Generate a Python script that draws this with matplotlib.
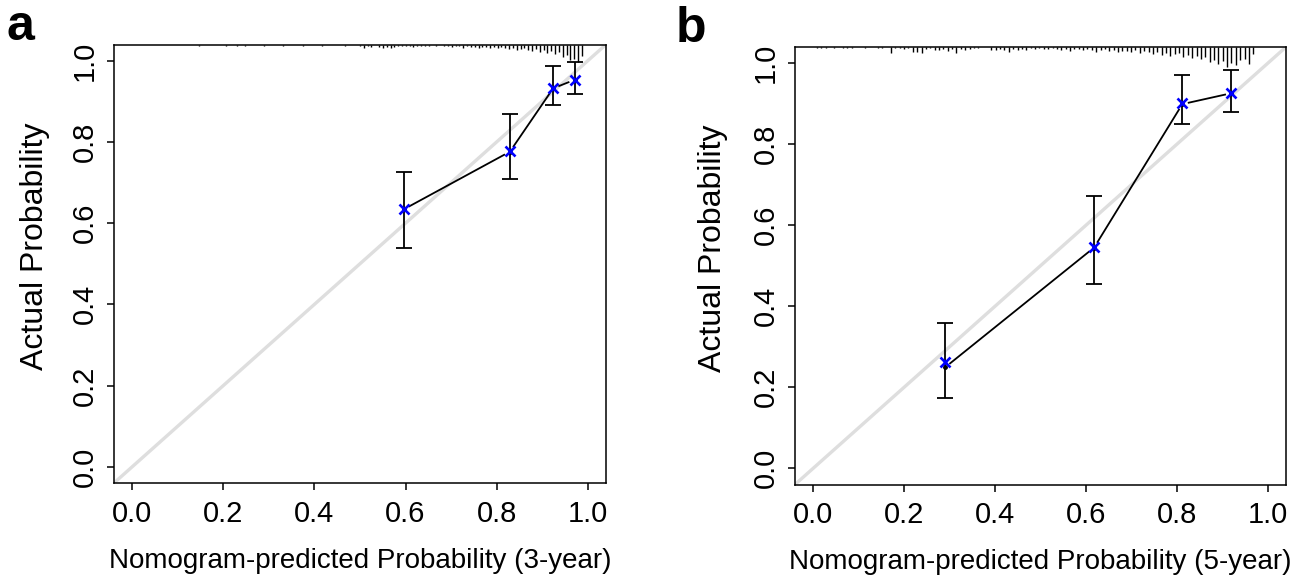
import numpy as np
import matplotlib
matplotlib.use("Agg")
import matplotlib.pyplot as plt

plt.rcParams['font.family'] = ['Liberation Sans', 'DejaVu Sans']

# ---- data ----
# panel a (3-year)
pred_a = [0.596, 0.829, 0.924, 0.971]
obs_a = [0.634, 0.776, 0.932, 0.953]
corr_a = [0.636, 0.778, 0.934, 0.953]
lo_a = [0.540, 0.708, 0.891, 0.917]
hi_a = [0.727, 0.869, 0.988, 0.998]

# panel b (5-year)
pred_b = [0.290, 0.618, 0.812, 0.920]
obs_b = [0.249, 0.545, 0.899, 0.926]
corr_b = [0.263, 0.547, 0.901, 0.926]
lo_b = [0.174, 0.455, 0.850, 0.879]
hi_b = [0.358, 0.671, 0.972, 0.983]

# spike histogram of predicted probabilities along the top
rug_a_start, rug_a_step = 0.147, 0.0084
rug_a_counts = [1, 0, 0, 0, 0, 0, 0, 1, 0, 0, 1, 0, 1, 0, 0, 0, 0, 1, 0, 0,
                0, 0, 1, 0, 0, 0, 0, 1, 0, 0, 0, 0, 1.5, 0, 0, 0, 0, 0, 1.5, 0,
                0, 0, 1.5, 3, 1.5, 2, 0, 2.5, 3, 2.5, 3, 2.5,
                1, 1, 1, 1, 2, 1, 1, 1, 1,
                0, 1, 0, 1,
                1, 2, 1, 1, 3, 1,
                2, 2, 3, 2, 2, 3, 2, 3, 2,
                3, 4, 3, 5, 4, 3, 5, 6, 4,
                7, 5, 8, 6, 9, 7,
                12, 10, 15, 14, 17, 11]

rug_b_start, rug_b_step = 0.008, 0.0096
rug_b_counts = [1, 1, 1, 0, 1, 0, 1, 1, 1, 0, 0, 1, 0, 0, 1, 1, 0,
                6, 1, 1, 2, 1, 5, 5, 6,
                2, 1, 3, 3, 2, 4, 2, 6,
                2, 3, 2, 1, 1, 0, 0,
                3, 3, 2, 3, 5, 2, 3, 2, 3,
                1, 2, 1, 2, 2, 1, 2, 3,
                2, 4, 2, 2, 3, 2, 3,
                5, 3, 2, 4, 3, 5, 4,
                4, 5, 3, 6, 4, 5, 7,
                5, 8, 6, 9, 7, 6, 10,
                8, 11, 9, 12, 10, 15, 13,
                17, 14, 20, 16, 18, 13, 12,
                17, 7]

xlabels = ["Nomogram-predicted Probability (3-year)",
           "Nomogram-predicted Probability (5-year)"]
ylabel = "Actual Probability"
panel_tags = ["a", "b"]
ticks = [0.0, 0.2, 0.4, 0.6, 0.8, 1.0]

W, H = 1314, 580
FS_TICK = 21
FS_XLAB = 20
FS_YLAB = 23


def gapped_line(ax, x, y, gap=6.5):
    # R type="b": segments stop short of each point
    pts = ax.transData.transform(np.column_stack([x, y]))
    inv = ax.transData.inverted()
    for p0, p1 in zip(pts[:-1], pts[1:]):
        d = p1 - p0
        n = np.hypot(*d)
        if n <= 2 * gap:
            continue
        u = d / n
        seg = inv.transform(np.array([p0 + u * gap, p1 - u * gap]))
        ax.plot(seg[:, 0], seg[:, 1], color="black", lw=1.3, zorder=3)


def draw_panel(ax, pred, obs, corr, lo, hi, rstart, rstep, rcounts, rmax_px, xlabel):
    ax.set_xlim(-0.04, 1.04)
    ax.set_ylim(-0.04, 1.04)
    ax.axline((0, 0), (1, 1), color="#dedede", lw=2.4, zorder=1)

    pred = np.asarray(pred)
    obs = np.asarray(obs)
    yerr = [obs - np.asarray(lo), np.asarray(hi) - obs]
    ax.errorbar(pred, obs, yerr=yerr, fmt="none", ecolor="black",
                elinewidth=1.3, capsize=5.5, capthick=1.3, zorder=4)
    gapped_line(ax, pred, obs)
    ax.plot(pred, obs, "o", color="black", ms=2.5, zorder=4)
    ax.plot(pred, corr, "x", color="#0000ff", ms=6.5, mew=1.9, zorder=5)

    # spikes hanging from the top border
    counts = np.asarray(rcounts, dtype=float)
    xs = rstart + rstep * np.arange(len(counts))
    px_per_unit = ax.get_window_extent().height / 1.08
    lens = counts / counts.max() * rmax_px / px_per_unit
    keep = counts > 0
    ax.vlines(xs[keep], 1.04 - lens[keep], 1.04, color="black", lw=1.0, zorder=2)

    ax.set_xticks(ticks)
    ax.set_yticks(ticks)
    ax.set_xticklabels([f"{t:.1f}" for t in ticks])
    ax.set_yticklabels([f"{t:.1f}" for t in ticks], rotation=90, va="center")
    ax.tick_params(direction="out", length=5, width=1.1, labelsize=FS_TICK, color="black")
    ax.tick_params(axis="x", pad=7)
    ax.tick_params(axis="y", pad=6)
    for s in ax.spines.values():
        s.set_linewidth(1.1)
    ax.set_xlabel(xlabel, fontsize=FS_XLAB)
    ax.set_ylabel(ylabel, fontsize=FS_YLAB)


fig = plt.figure(figsize=(W / 100, H / 100), dpi=100)
ax_a = fig.add_axes([114 / W, (H - 483) / H, 492 / W, 438.5 / H])
ax_b = fig.add_axes([795 / W, (H - 484.5) / H, 491 / W, 437.5 / H])

draw_panel(ax_a, pred_a, obs_a, corr_a, lo_a, hi_a,
           rug_a_start, rug_a_step, rug_a_counts, 17, xlabels[0])
draw_panel(ax_b, pred_b, obs_b, corr_b, lo_b, hi_b,
           rug_b_start, rug_b_step, rug_b_counts, 20, xlabels[1])

for ax, yl_x in [(ax_a, -0.16), (ax_b, -0.168)]:
    ax.xaxis.set_label_coords(0.5, -(561 - 483) / 438.5)
    ax.xaxis.label.set_va("center")
    ax.yaxis.set_label_coords(yl_x, 0.54)
    ax.yaxis.label.set_va("center")

fig.text(7 / W, 1 - 40 / H, panel_tags[0], fontsize=36, fontweight="bold", va="baseline")
fig.text(676 / W, 1 - 42 / H, panel_tags[1], fontsize=36, fontweight="bold", va="baseline")

fig.savefig("out.png", dpi=100)
